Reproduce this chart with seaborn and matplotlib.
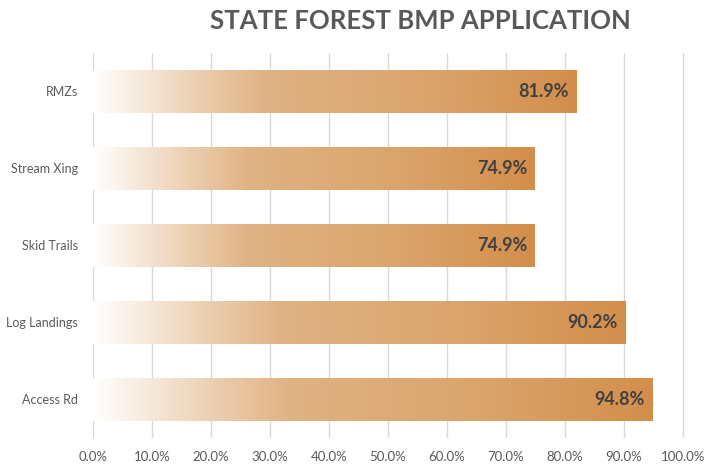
import numpy as np
import pandas as pd
import matplotlib
matplotlib.use("Agg")
import matplotlib.pyplot as plt
from matplotlib.colors import LinearSegmentedColormap
from matplotlib.ticker import FuncFormatter
import seaborn as sns

categories = ["RMZs", "Stream Xing", "Skid Trails", "Log Landings", "Access Rd"]
values = [81.9, 74.9, 74.9, 90.2, 94.8]
xticks = [0, 10, 20, 30, 40, 50, 60, 70, 80, 90, 100]

df = pd.DataFrame({"bmp": categories, "pct": values})

sns.set_theme(style="white")
plt.rcParams["font.family"] = ["Lato", "DejaVu Sans"]

fig = plt.figure(figsize=(7.07, 4.68), dpi=100)
ax = fig.add_axes([0.1315, 0.0641, 0.8385, 0.8227])

sns.barplot(data=df, x="pct", y="bmp", orient="h", color="#D4914F",
            width=0.57, ax=ax)

# gradient fill for each bar (white -> tan -> orange)
cmap = LinearSegmentedColormap.from_list(
    "bmp", [(0.0, "#FFFFFF"), (0.22, "#EBCEAE"), (0.35, "#E0B384"),
            (0.7, "#DAA46B"), (1.0, "#D38E4B")])
grad = np.linspace(0, 1, 256).reshape(1, -1)
for bar in ax.patches:
    x0, y0 = bar.get_x(), bar.get_y()
    w, h = bar.get_width(), bar.get_height()
    bar.set_facecolor("none")
    bar.set_edgecolor("none")
    im = ax.imshow(grad, cmap=cmap, aspect="auto", extent=[x0, x0 + w, y0 + h, y0],
                   zorder=2, interpolation="bilinear")
    im.set_clip_path(bar)

for i, v in enumerate(values):
    ax.text(v - 1.3, i, f"{v:.1f}%", ha="right", va="center", fontsize=13,
            fontweight="bold", color="#404040", zorder=3)

ax.set_xlim(0, 100.5)
ax.set_ylim(4.5, -0.5)
ax.set_xticks(xticks)
ax.xaxis.set_major_formatter(FuncFormatter(lambda x, p: f"{x:.1f}%"))
ax.grid(axis="x", color="#D9D9D9", linewidth=1)
ax.set_axisbelow(True)
for s in ax.spines.values():
    s.set_visible(False)
ax.tick_params(axis="x", length=0, pad=9, labelsize=9.5, labelcolor="#595959")
ax.tick_params(axis="y", length=0, pad=11, labelsize=9, labelcolor="#595959")
ax.set_xlabel("")
ax.set_ylabel("")

fig.text(0.594, 0.955, "STATE FOREST BMP APPLICATION", ha="center", va="center",
         fontsize=18.5, fontweight="bold", color="#595959")

fig.savefig("out.png", dpi=100)
